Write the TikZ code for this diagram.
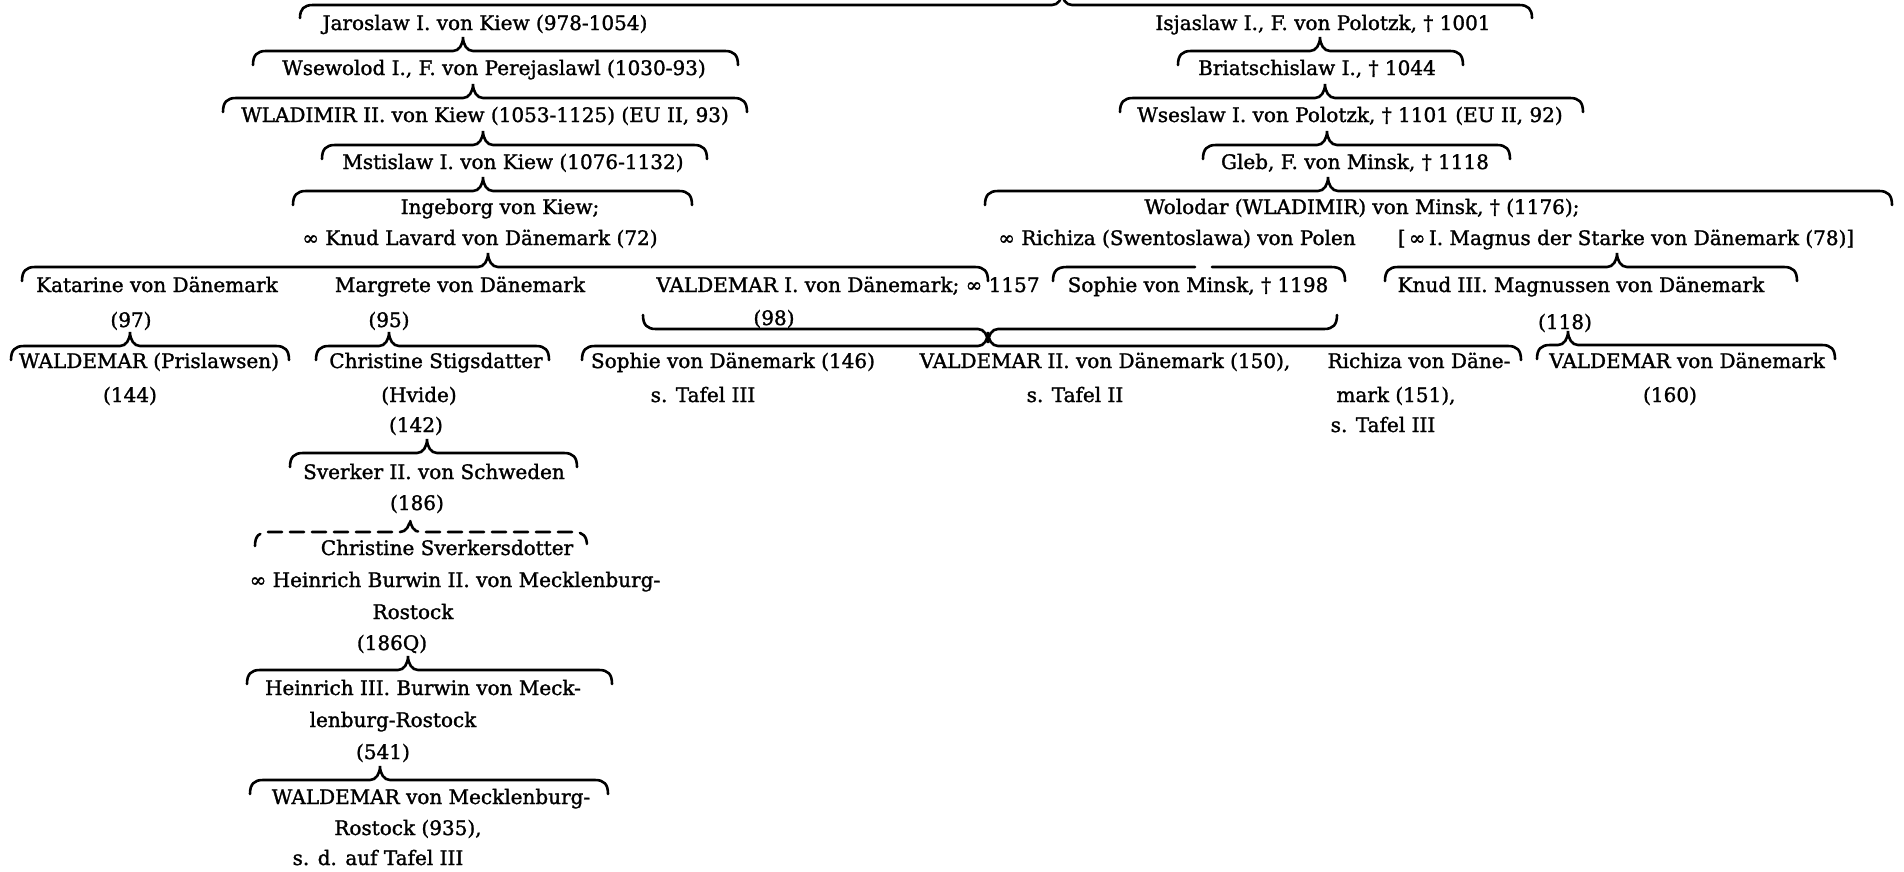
\documentclass[tikz,border=0pt]{standalone}
\usepackage{fontspec}
\setmainfont{DejaVu Serif}
\newfontfamily\genfont{DejaVu Serif}[FakeBold=1.4]

% brace between kin: [options]{left}{tip}{right}{line y}{hook}
\newcommand{\kinbrace}[6][]{%
  \draw[kinline,#1] ({#2},{#5+(#6)}) .. controls ({#2},{#5+0.3*(#6)}) and ({#2+4},{#5}) .. ({#2+13},{#5})
    -- ({#3-10},{#5}) .. controls ({#3-4},{#5}) and ({#3},{#5-0.45*(#6)}) .. ({#3},{#5-(#6)})
    .. controls ({#3},{#5-0.45*(#6)}) and ({#3+4},{#5}) .. ({#3+10},{#5})
    -- ({#4-13},{#5}) .. controls ({#4-4},{#5}) and ({#4},{#5+0.3*(#6)}) .. ({#4},{#5+(#6)});}

\begin{document}
\begin{tikzpicture}[
    x=1pt, y=-1pt,
    % estilos
    person/.style={anchor=base, inner sep=0pt, font=\genfont\fontsize{20}{24}\selectfont, text=black},
    kinline/.style={line width=2.6pt, draw=black, line cap=round},
    gap/.style={dash pattern=on 14pt off 8pt}
]
\fill[white] (0,0) rectangle (1904,871);
\useasboundingbox (0,0) rectangle (1904,871);

% --- KIEW ---
\kinbrace{300}{1062}{1532}{5}{13}
\node[person] (jaroslaw) at (485,30) {Jaroslaw I. von Kiew (978-1054)};
\kinbrace{253}{463}{738}{51}{14}
\node[person] (wsewolod) at (494,75) {Wsewolod I., F. von Perejaslawl (1030-93)};
\kinbrace{223}{473}{747}{98}{14}
\node[person] (wladimir) at (485,122) {WLADIMIR II. von Kiew (1053-1125) (EU II, 93)};
\kinbrace{322}{483}{707}{145}{14}
\node[person] (mstislaw) at (513,169) {Mstislaw I. von Kiew (1076-1132)};
\kinbrace{293}{483}{692}{191}{14}
\node[person] (ingeborg) at (500,214) {Ingeborg von Kiew;};
\node[person] (knudlav) at (480,245) {∞ Knud Lavard von Dänemark (72)};

% --- POLOTZK / MINSK ---
\node[person] (isjaslaw) at (1323,30) {Isjaslaw I., F. von Polotzk, † 1001};
\kinbrace{1178}{1320}{1463}{51}{14}
\node[person] (briatsch) at (1317,75) {Briatschislaw I., † 1044};
\kinbrace{1120}{1325}{1583}{98}{14}
\node[person] (wseslaw) at (1350,122) {Wseslaw I. von Polotzk, † 1101 (EU II, 92)};
\kinbrace{1203}{1327}{1510}{145}{14}
\node[person] (gleb) at (1355,169) {Gleb, F. von Minsk, † 1118};
\kinbrace{985}{1328}{1892}{191}{14}
\node[person] (wolodar) at (1362,214) {Wolodar (WLADIMIR) von Minsk, † (1176);};
\node[person] (richiza) at (1177,245) {∞ Richiza (Swentoslawa) von Polen};
\node[person] (magnus) at (1626,245) {[\,∞\,I. Magnus der Starke von Dänemark (78)]};

% --- KINDER KNUD LAVARD ---
\kinbrace{22}{488}{988}{267}{14}
\node[person] (katarine) at (157,292) {Katarine von Dänemark};
\node[person] (margrete) at (460,292) {Margrete von Dänemark};
\node[person] (valdemar1) at (848,292) {VALDEMAR I. von Dänemark; ∞ 1157};
\node[person] (k97) at (131,327) {(97)};
\node[person] (m95) at (389,327) {(95)};
\node[person] (v98) at (774,325) {(98)};

% --- KINDER WOLODAR ---
\draw[kinline] (1053,281) .. controls (1053,271) and (1057,267) .. (1067,267) -- (1195,267);
\draw[kinline] (1212,267) -- (1331,267) .. controls (1341,267) and (1345,271) .. (1345,281);
\node[person] (sophiem) at (1198,292) {Sophie von Minsk, † 1198};
\kinbrace{1385}{1617}{1797}{267}{14}
\node[person] (knud3) at (1581,292) {Knud III. Magnussen von Dänemark};
\node[person] (k118) at (1565,329) {(118)};

% --- ENKEL ---
\kinbrace{11}{130}{289}{346}{14}
\node[person] (prislaw) at (149,368) {WALDEMAR (Prislawsen)};
\node[person] (p144) at (130,402) {(144)};

\kinbrace{316}{389}{549}{346}{14}
\node[person] (chrstig) at (436,368) {Christine Stigsdatter};
\node[person] (hvide) at (419,402) {(Hvide)};
\node[person] (c142) at (416,432) {(142)};

\kinbrace{643}{988}{1337}{329}{-14}
\kinbrace{582}{988}{1521}{346}{14}
\node[person] (sophied) at (733,368) {Sophie von Dänemark (146)};
\node[person] (tafel3a) at (703,402) {s. Tafel III};
\node[person] (valdemar2) at (1105,368) {VALDEMAR II. von Dänemark (150),};
\node[person] (tafel2) at (1075,402) {s. Tafel II};
\node[person] (richizad) at (1419,368) {Richiza von Däne-};
\node[person] (mark151) at (1396,402) {mark (151),};
\node[person] (tafel3b) at (1383,432) {s. Tafel III};

\kinbrace{1537}{1568}{1835}{345}{14}
\node[person] (valdemard) at (1687,368) {VALDEMAR von Dänemark};
\node[person] (d160) at (1670,402) {(160)};

% --- SCHWEDEN / MECKLENBURG ---
\kinbrace{290}{427}{577}{453}{14}
\node[person] (sverker) at (434,479) {Sverker II. von Schweden};
\node[person] (s186) at (417,510) {(186)};
\kinbrace[gap]{255}{410}{587}{532}{14}
\node[person] (chrsverk) at (447,555) {Christine Sverkersdotter};
\node[person] (heinrich2) at (455,587) {∞ Heinrich Burwin II. von Mecklenburg-};
\node[person] (rostock1) at (413,619) {Rostock};
\node[person] (h186q) at (392,650) {(186Q)};
\kinbrace{247}{408}{612}{670}{14}
\node[person] (heinrich3) at (423,695) {Heinrich III. Burwin von Meck-};
\node[person] (lenburg) at (393,727) {lenburg-Rostock};
\node[person] (h541) at (383,759) {(541)};
\kinbrace{250}{380}{608}{780}{14}
\node[person] (waldmeck) at (431,804) {WALDEMAR von Mecklenburg-};
\node[person] (rostock2) at (408,835) {Rostock (935),};
\node[person] (tafel3c) at (378,865) {s. d. auf Tafel III};

\end{tikzpicture}
\end{document}
